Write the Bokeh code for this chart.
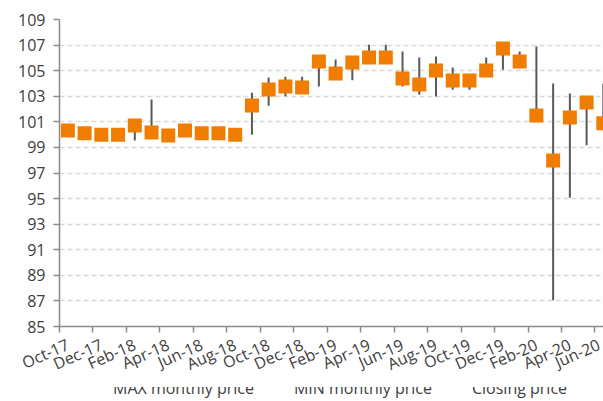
import math
from bokeh.plotting import figure
from bokeh.layouts import column
from bokeh.models import (Range1d, FixedTicker, Legend, LegendItem, ColumnDataSource)
from bokeh.embed import file_html
from bokeh.resources import INLINE

# ---------------- data ----------------
months = ["Oct-17", "Nov-17", "Dec-17", "Jan-18", "Feb-18", "Mar-18", "Apr-18", "May-18",
          "Jun-18", "Jul-18", "Aug-18", "Sep-18", "Oct-18", "Nov-18", "Dec-18", "Jan-19",
          "Feb-19", "Mar-19", "Apr-19", "May-19", "Jun-19", "Jul-19", "Aug-19", "Sep-19",
          "Oct-19", "Nov-19", "Dec-19", "Jan-20", "Feb-20", "Mar-20", "Apr-20", "May-20",
          "Jun-20"]
closing = [100.33, 100.10, 100.00, 100.00, 100.72, 100.17, 99.94, 100.33,
           100.10, 100.10, 100.00, 102.28, 103.53, 103.77, 103.69, 105.72,
           104.78, 105.64, 106.03, 106.03, 104.39, 103.92, 105.02, 104.23,
           104.23, 105.02, 106.73, 105.72, 101.50, 97.98, 101.34, 102.52,
           100.88]
max_price = [100.60, 100.40, 100.30, 100.20, 100.90, 102.75, 100.20, 100.50,
             100.40, 100.30, 100.20, 103.27, 104.47, 104.52, 104.52, 106.10,
             105.88, 106.00, 107.02, 107.02, 106.50, 106.03, 106.11, 105.25,
             104.60, 106.03, 107.00, 106.50, 106.89, 104.00, 103.22, 102.90,
             104.00]
min_price = [100.00, 99.80, 99.70, 99.80, 99.55, 99.90, 99.70, 100.00,
             99.80, 99.90, 99.70, 99.99, 102.26, 103.00, 103.30, 103.77,
             104.40, 104.26, 105.70, 105.80, 103.77, 103.12, 102.98, 103.50,
             103.50, 104.70, 105.07, 105.40, 101.20, 87.05, 95.07, 99.16,
             100.60]
y_ticks = [85, 87, 89, 91, 93, 95, 97, 99, 101, 103, 105, 107, 109]
series_names = ["MAX monthly price", "MIN monthly price", "Closing price"]

# ---------------- styles ----------------
ORANGE = "#F07C00"
TEXT = "#404040"
AXIS = "#8c8c8c"
FONT = "Open Sans"

# month index -> centre of the month on the date axis
xs = [i + 0.5 for i in range(len(months))]
src = ColumnDataSource(dict(x=xs, close=closing, high=max_price, low=min_price))

p = figure(frame_width=544, frame_height=307, output_backend="svg", toolbar_location=None,
           x_range=Range1d(0, 32.51), y_range=Range1d(85, 109),
           min_border_left=59, min_border_right=0, min_border_top=19,
           min_border_bottom=0, outline_line_color=None,
           background_fill_color="white", border_fill_color="white")

# high-low lines (MAX / MIN series) and closing-price markers
p.segment(x0="x", y0="low", x1="x", y1="high", source=src,
          line_color="#595959", line_width=2)
p.scatter(x="x", y="close", source=src, marker="square", size=14,
          fill_color=ORANGE, line_color=None)

# y axis
p.yaxis.ticker = FixedTicker(ticks=y_ticks)
p.yaxis.axis_line_color = AXIS
p.yaxis.axis_line_width = 1.5
p.yaxis.major_tick_line_color = AXIS
p.yaxis.major_tick_line_width = 1.5
p.yaxis.major_tick_out = 6
p.yaxis.major_tick_in = 0
p.yaxis.minor_tick_line_color = None
p.yaxis.major_label_standoff = 8
p.yaxis.major_label_text_font = FONT
p.yaxis.major_label_text_font_size = "16px"
p.yaxis.major_label_text_color = TEXT

# x axis: labels at month centres, tick marks at month boundaries
label_pos = [xs[i] for i in range(0, len(months), 2)]
bounds = [float(i) for i in range(0, len(months) + 2, 2)]
p.xaxis.ticker = FixedTicker(ticks=label_pos, minor_ticks=bounds)
p.xaxis.major_label_overrides = {xs[i]: months[i] for i in range(0, len(months), 2)}
p.xaxis.axis_line_color = AXIS
p.xaxis.axis_line_width = 1.5
p.xaxis.major_tick_line_color = None
p.xaxis.minor_tick_line_color = AXIS
p.xaxis.minor_tick_line_width = 1.5
p.xaxis.minor_tick_out = 6
p.xaxis.minor_tick_in = 0
p.xaxis.major_label_orientation = math.radians(24)
p.xaxis.major_label_standoff = 11
p.xaxis.major_label_text_font = FONT
p.xaxis.major_label_text_font_size = "16px"
p.xaxis.major_label_text_line_height = 1.0
p.xaxis.major_label_text_color = TEXT

p.xgrid.visible = False
p.ygrid.ticker = FixedTicker(ticks=y_ticks)
p.ygrid.grid_line_color = "#d9d9d9"
p.ygrid.grid_line_dash = "5 3"
p.ygrid.grid_line_width = 1.5

# ---------------- legend strip below the chart ----------------
q = figure(width=603, height=16, output_backend="svg", toolbar_location=None,
           x_range=Range1d(0, 1), y_range=Range1d(0, 1),
           x_axis_type=None, y_axis_type=None, min_border=0,
           outline_line_color=None, background_fill_color="white",
           border_fill_color="white")
q.xgrid.visible = False
q.ygrid.visible = False
g_max = q.line(x=[], y=[], line_alpha=0)
g_min = q.line(x=[], y=[], line_alpha=0)
g_close = q.rect(x=[], y=[], width=1, height=1, fill_color=ORANGE, line_color=None)

legend = Legend(items=[
    LegendItem(label=series_names[0], renderers=[g_max]),
    LegendItem(label=series_names[1], renderers=[g_min]),
    LegendItem(label=series_names[2], renderers=[g_close]),
], orientation="horizontal", location=(40, 4),
    glyph_width=10, glyph_height=10, label_standoff=4, spacing=26,
    label_height=10, padding=0, margin=0, border_line_color=None,
    background_fill_alpha=0,
    label_text_font=FONT, label_text_font_size="16px", label_text_color=TEXT)
q.add_layout(legend, "center")

layout = column(p, q, spacing=0)
open("out.html", "w").write(file_html(layout, INLINE))
